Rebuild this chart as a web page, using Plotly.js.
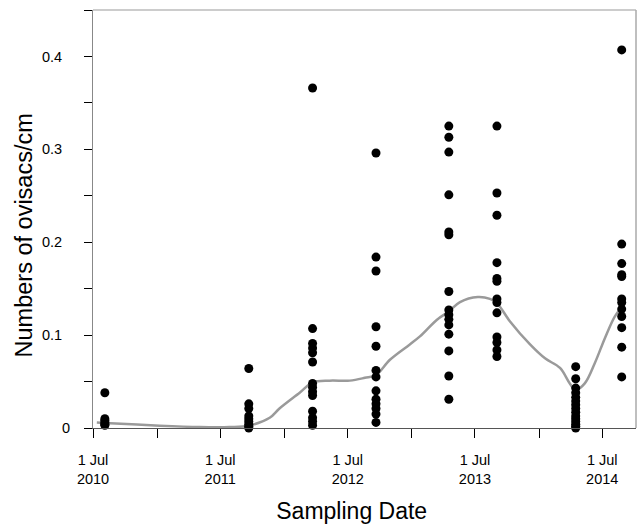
<!DOCTYPE html>
<html>
<head>
<meta charset="utf-8">
<script src="https://cdn.plot.ly/plotly-3.0.1.min.js"></script>
<style>html,body{margin:0;padding:0;background:#fff;}#chart{width:638px;height:526px;}</style>
</head>
<body>
<div id="chart"></div>
<script>
// Sampling dates and ovisac densities
var samplingDates = ['2010-08-04','2011-09-21','2012-03-22','2012-09-20','2013-04-17','2013-09-02','2014-04-16','2014-08-26'];
var vals2010Aug = [0.038, 0.010, 0.008, 0.006, 0.004, 0.003];
var vals2011Sep = [0.064, 0.026, 0.021, 0.013, 0.010, 0.007, 0.004, 0.002, 0.0];
var vals2012Mar = [0.366, 0.107, 0.091, 0.086, 0.081, 0.071, 0.048, 0.044, 0.039, 0.035, 0.018, 0.011, 0.007, 0.003];
var vals2012Sep = [0.296, 0.184, 0.169, 0.109, 0.088, 0.062, 0.055, 0.040, 0.031, 0.026, 0.021, 0.015, 0.006];
var vals2013Apr = [0.325, 0.313, 0.297, 0.251, 0.211, 0.208, 0.147, 0.127, 0.122, 0.117, 0.111, 0.101, 0.083, 0.056, 0.031];
var vals2013Sep = [0.325, 0.253, 0.229, 0.178, 0.161, 0.158, 0.139, 0.135, 0.124, 0.098, 0.092, 0.084, 0.077];
var vals2014Apr = [0.066, 0.053, 0.043, 0.038, 0.033, 0.029, 0.025, 0.021, 0.017, 0.013, 0.010, 0.007, 0.004, 0.002, 0.0];
var vals2014Aug = [0.407, 0.198, 0.177, 0.165, 0.163, 0.139, 0.135, 0.128, 0.120, 0.108, 0.087, 0.055];
var groups = [vals2010Aug, vals2011Sep, vals2012Mar, vals2012Sep, vals2013Apr, vals2013Sep, vals2014Apr, vals2014Aug];

// Smoothed trend
var smoothDates = ['2010-07-12','2010-08-04','2011-01-08','2011-05-03','2011-07-28','2011-09-21','2011-11-20','2011-12-18','2012-02-14','2012-03-22','2012-05-10','2012-07-07','2012-08-19','2012-09-20','2012-10-30','2012-12-26','2013-01-24','2013-03-14','2013-04-17','2013-05-19','2013-07-09','2013-08-13','2013-09-02','2013-10-09','2013-12-06','2014-01-18','2014-03-02','2014-03-30','2014-04-16','2014-05-12','2014-06-10','2014-07-09','2014-08-06','2014-08-26'];
var smoothVals = [0.006,0.0055,0.0025,0.001,0.001,0.0025,0.011,0.021,0.038,0.049,0.051,0.051,0.054,0.057,0.0735,0.090,0.0986,0.1166,0.1255,0.1356,0.141,0.139,0.1345,0.115,0.090,0.075,0.0646,0.048,0.041,0.048,0.070,0.097,0.120,0.130];

// Axis ticks
var xTickVals = ['2010-07-01','2011-01-01','2011-07-01','2012-01-01','2012-07-01','2013-01-01','2013-07-01','2014-01-01','2014-07-01'];
var xTickText = ['1 Jul<br>2010','','1 Jul<br>2011','','1 Jul<br>2012','','1 Jul<br>2013','','1 Jul<br>2014'];
var yTickVals = [0,0.05,0.1,0.15,0.2,0.25,0.3,0.35,0.4,0.45];
var yTickText = ['0','','0.1','','0.2','','0.3','','0.4',''];

var px = [], py = [];
for (var i = 0; i < samplingDates.length; i++) {
  for (var j = 0; j < groups[i].length; j++) { px.push(samplingDates[i]); py.push(groups[i][j]); }
}
// decimal labels sit a little further left than "0" in the reference
var yTickShown = yTickText.map(function (t) { return t.length > 1 ? t + '&nbsp;&nbsp;' : t; });

var font = '"Liberation Sans", Arial, Helvetica, sans-serif';
var pad = '&nbsp;&nbsp;&nbsp;&nbsp;&nbsp;';
var traces = [
  {x: smoothDates, y: smoothVals, type: 'scatter', mode: 'lines',
   line: {color: '#9a9a9a', width: 2.5, shape: 'spline', smoothing: 1}, hoverinfo: 'skip', cliponaxis: false},
  {x: px, y: py, type: 'scatter', mode: 'markers',
   marker: {color: '#000', size: 9}, cliponaxis: false}
];
var layout = {
  width: 638, height: 526,
  margin: {l: 93, r: 2, t: 10, b: 98},
  paper_bgcolor: '#fff', plot_bgcolor: '#fff',
  showlegend: false,
  font: {family: font, color: '#000', size: 14.5},
  xaxis: {type: 'date', range: ['2010-07-01','2014-10-06'], showgrid: false, zeroline: false,
    showline: true, linecolor: '#555', linewidth: 1,
    ticks: 'outside', ticklen: 9, tickcolor: '#000', tickwidth: 1,
    tickmode: 'array', tickvals: xTickVals, ticktext: xTickText, ticklabelstandoff: 10,
    tickfont: {family: font, size: 14.5, color: '#000'},
    title: {text: 'Sampling Date&nbsp;&nbsp;&nbsp;&nbsp;', font: {family: font, size: 23, color: '#000'}, standoff: 16}},
  yaxis: {range: [0, 0.45], showgrid: false, zeroline: false,
    showline: true, linecolor: '#888', linewidth: 1,
    ticks: 'outside', ticklen: 8, tickcolor: '#000', tickwidth: 1,
    tickmode: 'array', tickvals: yTickVals, ticktext: yTickShown, ticklabelstandoff: 11,
    tickfont: {family: font, size: 14.5, color: '#000'},
    title: {text: 'Numbers of ovisacs/cm' + pad, font: {family: font, size: 23.5, color: '#000'}, standoff: 2}},
  shapes: [
    {type: 'line', xref: 'paper', yref: 'paper', x0: 0, x1: 1, y0: 1, y1: 1, line: {color: '#999', width: 1}},
    {type: 'line', xref: 'paper', yref: 'paper', x0: 1, x1: 1, y0: 0, y1: 1, line: {color: '#aaa', width: 1.5}}
  ]
};
Plotly.newPlot('chart', traces, layout, {displayModeBar: false, staticPlot: true});
</script>
</body>
</html>
